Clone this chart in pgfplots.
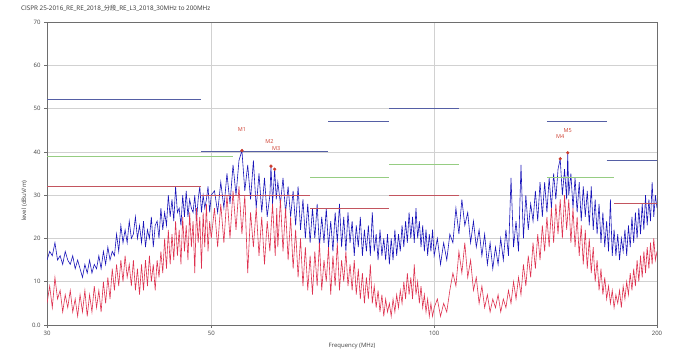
\documentclass[border=0pt]{standalone}
\usepackage{fontspec}
\setmainfont{Open Sans}
\newfontfamily\cjk{Noto Sans CJK SC}
\usepackage{pgfplots}
\pgfplotsset{compat=1.18}
\definecolor{trblue}{RGB}{25,20,185}
\definecolor{trred}{RGB}{222,50,80}
\definecolor{limblue}{RGB}{85,95,165}
\definecolor{limgreen}{RGB}{150,205,130}
\definecolor{limred}{RGB}{195,85,95}
\definecolor{mk}{RGB}{205,60,45}
\definecolor{axgray}{RGB}{110,110,110}
\begin{document}
\begin{tikzpicture}
\begin{axis}[
  scale only axis, width=610pt, height=303pt,
  xmode=log, xmin=30, xmax=200, ymin=0, ymax=70,
  xtick={30,50,100,200}, xticklabels={30,50,100,200},
  minor xtick={},
  ytick={0,10,20,30,40,50,60,70}, yticklabels={0.0,10,20,30,40,50,60,70},
  xtick pos=lower, ytick pos=left,
  tick align=outside, major tick length=3pt,
  tick style={axgray, line width=0.5pt},
  axis line style={axgray, line width=0.6pt},
  xmajorgrids, ymajorgrids,
  grid style={black!18, line width=0.5pt},
  /pgf/number format/assume math mode=true,
  ticklabel style={font=\fontsize{6}{7}\selectfont, text=black!75},
  xlabel={Frequency (MHz)}, ylabel={level (dBuV/m)},
  label style={font=\fontsize{6}{7}\selectfont, text=black!75},
  xlabel style={at={(axis description cs:0.5,0)}, anchor=north, yshift=-15pt},
  ylabel style={at={(axis description cs:-0.027,0.41)}, anchor=south},
  title={CISPR 25-2016\_RE\_RE\_2018\_{\cjk 分段}\_RE\_L3\_2018\_30MHz to 200MHz},
  title style={at={(rel axis cs:0,1)}, anchor=base west, xshift=-26pt, yshift=5pt, font=\fontsize{6.3}{7}\selectfont, text=black!80, inner sep=0pt},
  clip=true,
]
% blue trace
\addplot[trblue, line width=0.6pt] coordinates {
(30,15)(30.25,17)(30.5,16)(30.75,19)(31,15)(31.25,16)(31.5,14)(31.75,17)(32,15)(32.25,14)(32.5,16)(32.75,13)
(33,15)(33.25,13)(33.5,11)(33.75,14)(34,12)(34.25,15)(34.5,12)(34.75,14)(35,13)(35.25,16)(35.5,13)(35.75,17)
(36,14)(36.25,18)(36.5,15)(36.75,17)(37,16)(37.25,21)(37.5,17)(37.75,23)(38,19)(38.25,22)(38.5,19)(38.75,24)
(39,20)(39.25,21)(39.5,25)(39.75,20)(40,23)(40.25,19)(40.5,24)(40.75,18)(41,22)(41.25,20)(41.5,25)(41.75,18)
(42,23)(42.25,24)(42.5,20)(42.75,27)(43,22)(43.25,26)(43.5,23)(43.75,30)(44,25)(44.25,29)(44.5,24)(44.75,32)
(45,26)(45.25,27)(45.5,23)(45.75,30)(46,25)(46.25,31)(46.5,25)(46.75,29)(47,27)(47.25,26)(47.5,30)(47.75,24)
(48,29)(48.25,32)(48.5,26)(48.75,30)(49,27)(49.25,29)(49.5,32)(49.75,26)(50,30)
(50.5,31)(51,26)(51.5,33)(52,27)(52.5,35)(53,28)(53.5,37)(54,30)(54.5,38)(55,40.3)(55.5,31)(56,37)
(56.5,29)(57,38)(57.5,27)(58,35)(58.5,26)(59,34)(59.5,25)(60,30)(60.2,36.7)(60.5,28)(60.9,36.0)(61.2,29)
(61.5,33)(62,28)(62.5,34)(63,26)(63.5,32)(64,25)(64.5,31)(65,23)(65.5,32)(66,22)(66.5,29)(67,20)
(67.5,28)(68,19)(68.5,27)(69,20)(69.5,28)(70,18)(70.5,25)(71,19)(71.5,27)(72,18)(72.5,24)(73,17)
(73.5,26)(74,19)(74.5,28)(75,18)(75.5,25)(76,17)(76.5,26)(77,19)(77.5,24)(78,16)(78.5,23)(79,18)
(79.5,25)(80,16)(80.5,22)(81,17)(81.5,23)(82,16)(82.5,26)(83,17)(83.5,21)(84,15)(84.5,22)(85,16)
(85.5,20)(86,15)(86.5,21)(87,14)(87.5,20)(88,15)(88.5,22)(89,16)(89.5,21)(90,17)(90.5,23)(91,18)
(91.5,24)(92,19)(92.5,26)(93,20)(93.5,25)(94,19)(94.5,27)(95,20)(95.5,24)(96,18)(96.5,23)(97,17)
(97.5,22)(98,16)(98.5,21)(99,17)(99.5,22)(100,16)
(101,20)(102,14)(103,19)(104,15)(105,21)(106,19)(107,27)(108,21)(109,29)(110,23)(111,26)(112,19)
(113,24)(114,18)(115,22)(116,16)(117,21)(118,14)(119,19)(120,13)(121,18)(122,14)(123,20)(124,15)
(125,22)(126,16)(127,34)(128,18)(129,24)(130,17)(131,37)(132,20)(133,30)(134,22)(135,28)(136,24)
(137,31)(138,24)(139,33)(140,25)(141,33)(142,26)(143,34)(144,27)(145,35)(146,29)(147,36)(148,38.4)
(149,30)(150,36)(151,29)(151.5,39.8)(152,30)(153,35)(154,27)(155,34)(156,26)(157,33)(158,24)(159,32)
(160,25)(161,31)(162,23)(163,32)(164,22)(165,29)(166,21)(167,28)(168,19)(169,26)(170,18)(171,24)
(172,17)(173,29)(174,16)(175,22)(176,16)(177,21)(178,15)(179,20)(180,17)(181,22)(182,16)(183,23)
(184,18)(185,25)(186,19)(187,26)(188,20)(189,27)(190,21)(191,28)(192,22)(193,30)(194,23)(195,29)
(196,24)(197,33)(198,25)(199,30)(200,27)
};
% red trace
\addplot[trred, line width=0.6pt] coordinates {
(30,5)(30.25,9)(30.5,4)(30.75,11)(31,6)(31.25,8)(31.5,3)(31.75,7)(32,4)(32.25,8)(32.5,3)(32.75,6)
(33,2)(33.25,7)(33.5,3)(33.75,8)(34,2)(34.25,7)(34.5,3)(34.75,9)(35,4)(35.25,8)(35.5,3)(35.75,10)
(36,5)(36.25,11)(36.5,6)(36.75,13)(37,8)(37.25,14)(37.5,9)(37.75,15)(38,10)(38.25,16)(38.5,11)(38.75,14)
(39,9)(39.25,15)(39.5,8)(39.75,13)(40,7)(40.25,14)(40.5,8)(40.75,15)(41,9)(41.25,16)(41.5,10)(41.75,14)
(42,8)(42.25,15)(42.5,11)(42.75,17)(43,12)(43.25,20)(43.5,13)(43.75,22)(44,14)(44.25,21)(44.5,15)(44.75,24)
(45,16)(45.25,22)(45.5,14)(45.75,25)(46,17)(46.25,23)(46.5,15)(46.75,26)(47,18)(47.25,24)(47.5,12)(47.75,27)
(48,19)(48.25,25)(48.5,13)(48.75,26)(49,18)(49.25,28)(49.5,17)(49.75,24)(50,20)
(50.5,27)(51,18)(51.5,28)(52,19)(52.5,30)(53,20)(53.5,31)(54,22)(54.5,32)(55,21)(55.5,30)(56,12)
(56.5,26)(57,18)(57.5,27)(58,16)(58.5,25)(59,14)(59.5,24)(60,17)(60.2,22)(60.5,28)(61,16)(61.3,27)
(61.5,18)(62,29)(62.5,17)(63,27)(63.5,15)(64,25)(64.5,13)(65,22)(65.5,11)(66,20)(66.5,9)(67,18)
(67.5,8)(68,16)(68.5,7)(69,17)(69.5,9)(70,19)(70.5,8)(71,15)(71.5,10)(72,18)(72.5,7)(73,16)
(73.5,9)(74,19)(74.5,8)(75,15)(75.5,10)(76,17)(76.5,9)(77,14)(77.5,8)(78,15)(78.5,7)(79,13)
(79.5,6)(80,12)(80.5,5)(81,11)(81.5,6)(82,14)(82.5,5)(83,9)(83.5,4)(84,8)(84.5,3)(85,7)
(85.5,2)(86,6)(86.5,3)(87,5)(87.5,2)(88,6)(88.5,3)(89,7)(89.5,4)(90,8)(90.5,5)(91,10)
(91.5,6)(92,12)(92.5,7)(93,11)(93.5,6)(94,14)(94.5,7)(95,10)(95.5,5)(96,9)(96.5,4)(97,7)
(97.5,3)(98,6)(98.5,2)(99,5)(99.5,2)(100,4)
(101,6)(102,2)(103,5)(104,3)(105,8)(106,12)(107,9)(108,17)(109,12)(110,19)(111,11)(112,15)
(113,8)(114,11)(115,5)(116,9)(117,4)(118,7)(119,3)(120,6)(121,4)(122,7)(123,3)(124,6)
(125,4)(126,8)(127,5)(128,10)(129,6)(130,11)(131,7)(132,14)(133,9)(134,16)(135,11)(136,19)
(137,13)(138,21)(139,15)(140,23)(141,17)(142,25)(143,18)(144,27)(145,19)(146,28)(147,21)(148,29)
(149,20)(150,30)(151,22)(152,29)(153,19)(154,27)(155,18)(156,25)(157,16)(158,23)(159,14)(160,22)
(161,13)(162,20)(163,12)(164,18)(165,10)(166,15)(167,8)(168,13)(169,7)(170,11)(171,6)(172,9)
(173,5)(174,8)(175,4)(176,7)(177,5)(178,8)(179,4)(180,9)(181,6)(182,10)(183,7)(184,12)
(185,8)(186,13)(187,9)(188,15)(189,10)(190,16)(191,11)(192,17)(193,12)(194,18)(195,13)(196,19)
(197,14)(198,20)(199,15)(200,17)
};
% limit lines
\addplot[limblue, line width=1.1pt] coordinates {(30,52)(48.5,52)};
\addplot[limblue, line width=1.1pt] coordinates {(48.5,40)(72,40)};
\addplot[limblue, line width=1.1pt] coordinates {(72,47)(87,47)};
\addplot[limblue, line width=1.1pt] coordinates {(87,50)(108,50)};
\addplot[limblue, line width=1.1pt] coordinates {(142,47)(171,47)};
\addplot[limblue, line width=1.1pt] coordinates {(171,38)(200,38)};
\addplot[limgreen, line width=1.1pt] coordinates {(30,39)(53.5,39)};
\addplot[limgreen, line width=1.1pt] coordinates {(68,34)(87,34)};
\addplot[limgreen, line width=1.1pt] coordinates {(87,37)(108,37)};
\addplot[limgreen, line width=1.1pt] coordinates {(142,34)(175,34)};
\addplot[limred, line width=1.1pt] coordinates {(30,32)(48.5,32)};
\addplot[limred, line width=1.1pt] coordinates {(48.5,30)(68,30)};
\addplot[limred, line width=1.1pt] coordinates {(68,27)(87,27)};
\addplot[limred, line width=1.1pt] coordinates {(87,30)(108,30)};
\addplot[limred, line width=1.1pt] coordinates {(175,28)(200,28)};
% markers
\addplot[only marks, mark=*, mark size=1.4pt, mk,
  nodes near coords, point meta=explicit symbolic,
  visualization depends on={\thisrow{dx} \as \dx},
  visualization depends on={\thisrow{dy} \as \dy},
  every node near coord/.style={font=\fontsize{5.5}{6}\selectfont, text=mk, anchor=center, xshift=\dx pt, yshift=\dy pt, inner sep=0pt}]
  table[meta=lab] {
f y lab dx dy
55 40.3 M1 0 21
60.2 36.7 M2 -1.5 25
60.9 36.0 M3 1.5 20.5
148 38.4 M4 0 22
151.5 39.8 M5 0 22
};
\end{axis}
\path ([xshift=-47pt,yshift=-32pt]current axis.south west) rectangle ([xshift=22pt,yshift=22pt]current axis.north east);
\end{tikzpicture}
\end{document}
